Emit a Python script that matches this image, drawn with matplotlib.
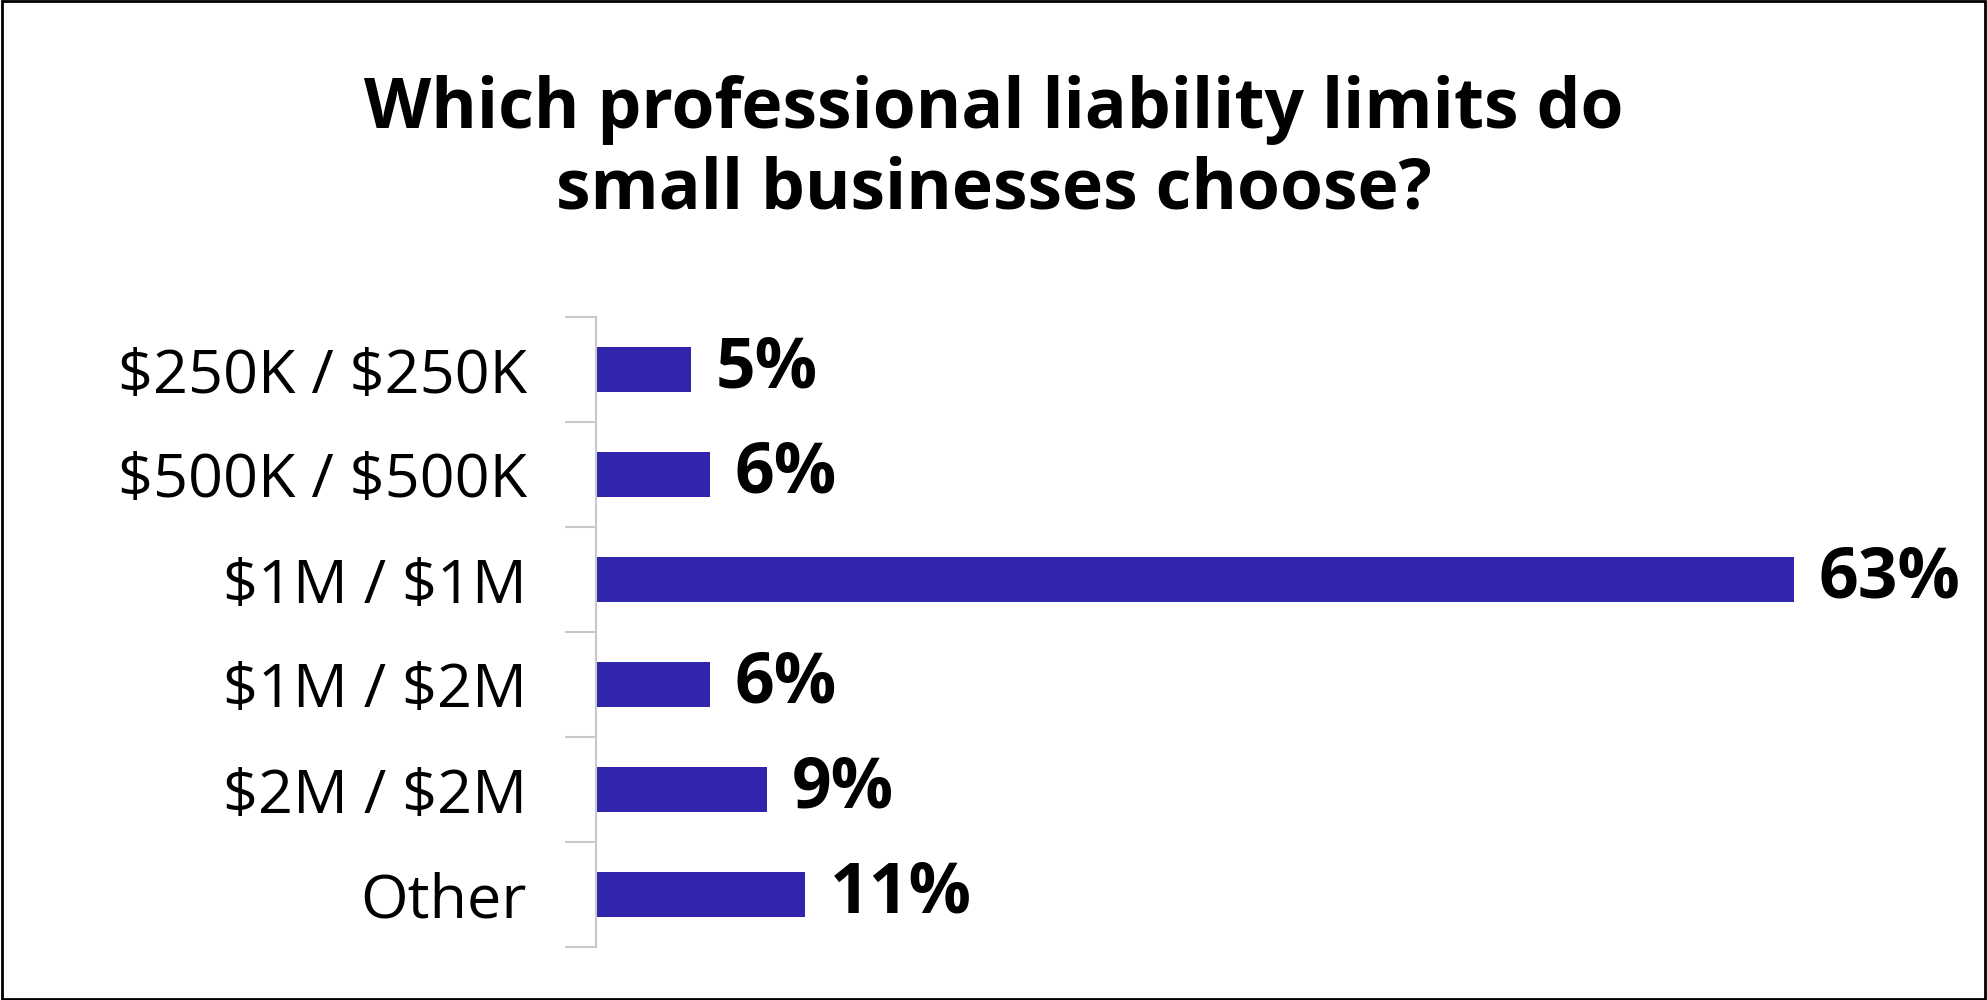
import matplotlib
matplotlib.use("Agg")
import matplotlib.pyplot as plt
from matplotlib.patches import Rectangle

categories = ["$250K / $250K", "$500K / $500K", "$1M / $1M", "$1M / $2M", "$2M / $2M", "Other"]
values = [5, 6, 63, 6, 9, 11]
title = "Which professional liability limits do\nsmall businesses choose?"

plt.rcParams['font.family'] = ['Open Sans', 'DejaVu Sans']
plt.rcParams['text.parse_math'] = False
fig = plt.figure(figsize=(19.87, 10), dpi=100)
ax = fig.add_axes([0.30, 0.053, 0.67, 0.63])
y = list(range(len(categories)))
ax.barh(y, values, height=0.43, color="#3125AE")
ax.set_ylim(len(categories) - 0.5, -0.5)
ax.set_xlim(0, 70)
ax.set_yticks(y)
ax.set_yticklabels(categories, fontsize=44)
ax.set_yticks([i - 0.5 for i in range(len(categories) + 1)], minor=True)
ax.tick_params(axis='y', which='major', length=0, pad=50)
ax.tick_params(axis='y', which='minor', length=22, color="#c8c8c8", width=1.5)
ax.set_xticks([])
for s in ["top", "right", "bottom"]:
    ax.spines[s].set_visible(False)
ax.spines["left"].set_color("#c8c8c8")
ax.spines["left"].set_linewidth(1.5)
for yi, v in zip(y, values):
    ax.text(v + 1.3, yi, f"{v}%", va="center", ha="left", fontsize=50, fontweight="bold")
fig.text(0.5, 0.85, title, ha="center", va="center", fontsize=50, fontweight="bold", linespacing=1.2)
fig.patches.append(Rectangle((0.001, 0.001), 0.998, 0.998, transform=fig.transFigure,
                             fill=False, edgecolor="black", linewidth=2))
fig.savefig("out.png", dpi=100)
